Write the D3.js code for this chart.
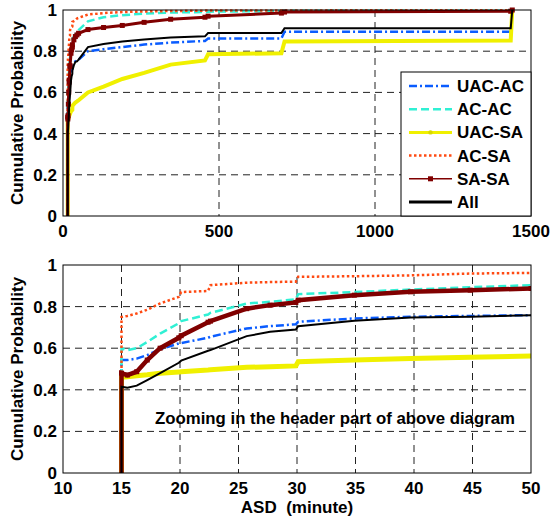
<!DOCTYPE html>
<html lang="en">
<head>
    <meta charset="UTF-8">
    <title>ASD CDF</title>
    <style>
        body { margin: 0; background: #fff; }
        svg { display: block; }
        text { font-family: "Liberation Sans", Arial, sans-serif; font-weight: bold; fill: #000; }
    </style>
</head>
<body>
<svg></svg>
<script src="https://d3js.org/d3.v7.min.js"></script>
<script>
    // ASD in minutes, shared by every series (duplicated x = jump of the CDF)
    var asdMinutes = [15, 15, 15.5, 16.3, 17.2, 18.3, 19.9, 20.1, 22.4, 22.6, 25.7, 27.7, 29.9, 30.1, 34.9,
        39.7, 44.8, 50, 80, 130, 190, 260, 345, 455, 465, 700, 710, 1435, 1440];

    var uacAc = [0, .543, .543, .55, .567, .595, .623, .625, .65, .655, .695, .706, .715, .727, .743,
        .751, .755, .759, .80, .81, .82, .832, .842, .85, .862, .862, .894, .894, 1];
    var acAc = [0, .60, .59, .60, .63, .67, .72, .73, .762, .77, .815, .823, .835, .86, .87,
        .882, .893, .903, .945, .965, .975, .982, .988, .99, .992, .995, .996, .997, 1];
    var uacSa = [0, .46, .463, .468, .472, .48, .485, .487, .495, .496, .508, .511, .515, .535, .543,
        .551, .556, .562, .60, .628, .665, .695, .735, .755, .785, .79, .847, .852, 1];
    var acSa = [0, .75, .755, .767, .785, .815, .847, .87, .875, .903, .915, .918, .92, .943, .946,
        .95, .959, .962, .978, .985, .99, .993, .995, .997, .997, .998, .998, .999, 1];
    var saSa = [0, .48, .471, .487, .543, .6, .65, .66, .725, .73, .79, .807, .82, .831, .855,
        .871, .879, .887, .905, .915, .925, .94, .955, .965, .97, .985, .99, .994, 1];
    var allPairs = [0, .415, .41, .42, .447, .48, .53, .54, .588, .591, .658, .679, .69, .706, .732,
        .748, .751, .759, .82, .835, .847, .857, .867, .872, .888, .888, .912, .912, 1];

    var seriesNames = ["UAC-AC", "AC-AC", "UAC-SA", "AC-SA", "SA-SA", "All"];
    var seriesValues = [uacAc, acAc, uacSa, acSa, saSa, allPairs];

    var topXTicks = [0, 500, 1000, 1500];
    var bottomXTicks = [10, 15, 20, 25, 30, 35, 40, 45, 50];
    var yTicks = [0, 0.2, 0.4, 0.6, 0.8, 1];

    var styles = [
        {color: "#0a5cff", width: 2.5, zoomWidth: 2.5, dash: "8,3,2,3"},
        {color: "#30f0d4", width: 2.5, zoomWidth: 2.5, dash: "8,4"},
        {color: "#f0f000", width: 4, zoomWidth: 5, dash: null},
        {color: "#ff4a12", width: 2.5, zoomWidth: 2.5, dash: "2.5,2.5"},
        {color: "#800000", width: 3, zoomWidth: 4.5, dash: null, marker: true},
        {color: "#000000", width: 2, zoomWidth: 2, dash: null}
    ];

    var width = 551;
    var height = 521;
    var left = 63, right = 531;

    var svg = d3.select("svg")
        .attr("width", width)
        .attr("height", height);

    function drawPanel(top, bottom, xDomain, xTicks, clipId, zoomed) {
        var xScale = d3.scaleLinear().domain(xDomain).range([left, right]);
        var yScale = d3.scaleLinear().domain([0, 1]).range([bottom, top]);
        var g = svg.append("g");

        g.append("clipPath").attr("id", clipId)
            .append("rect")
            .attr("x", left).attr("y", top - 3)
            .attr("width", right - left).attr("height", bottom - top + 6);

        // dashed grid
        g.selectAll(".gx").data(xTicks.slice(1, -1)).enter().append("line")
            .attr("x1", function (d) { return xScale(d); })
            .attr("x2", function (d) { return xScale(d); })
            .attr("y1", top).attr("y2", bottom)
            .style("stroke", "#222").style("stroke-width", 1).style("stroke-dasharray", "7,5");
        g.selectAll(".gy").data(yTicks.slice(1, -1)).enter().append("line")
            .attr("y1", function (d) { return yScale(d); })
            .attr("y2", function (d) { return yScale(d); })
            .attr("x1", left).attr("x2", right)
            .style("stroke", "#222").style("stroke-width", 1).style("stroke-dasharray", "7,5");

        var line = d3.line()
            .x(function (d) { return xScale(d[0]); })
            .y(function (d) { return yScale(d[1]); });

        var lines = g.append("g").attr("clip-path", "url(#" + clipId + ")");
        seriesValues.forEach(function (vals, i) {
            var pts = asdMinutes.map(function (m, j) { return [m, vals[j]]; });
            var s = styles[i];
            lines.append("path")
                .attr("d", line(pts))
                .style("fill", "none")
                .style("stroke", s.color)
                .style("stroke-width", zoomed ? s.zoomWidth : s.width)
                .style("stroke-dasharray", s.dash);
            if (s.marker) {
                lines.selectAll(".m" + i).data(pts.slice(1)).enter().append("rect")
                    .attr("x", function (d) { return xScale(d[0]) - 2.5; })
                    .attr("y", function (d) { return yScale(d[1]) - 2.5; })
                    .attr("width", 5).attr("height", 5)
                    .style("fill", s.color);
            }
        });

        // frame
        g.append("rect")
            .attr("x", left).attr("y", top)
            .attr("width", right - left).attr("height", bottom - top)
            .style("fill", "none").style("stroke", "#000").style("stroke-width", 1);

        // tick labels
        g.selectAll(".tx").data(xTicks).enter().append("text")
            .attr("x", function (d) { return xScale(d); })
            .attr("y", bottom + 21)
            .attr("text-anchor", "middle")
            .style("font-size", "17px")
            .text(function (d) { return d; });
        g.selectAll(".ty").data(yTicks).enter().append("text")
            .attr("x", left - 6)
            .attr("y", function (d) { return yScale(d) + 6; })
            .attr("text-anchor", "end")
            .style("font-size", "17px")
            .text(function (d) { return d; });

        g.append("text")
            .attr("transform", "translate(23," + (top + bottom) / 2 + ") rotate(-90)")
            .attr("text-anchor", "middle")
            .style("font-size", "17px")
            .text("Cumulative Probability");

        return {x: xScale, y: yScale, g: g};
    }

    var topPanel = drawPanel(10, 216, [0, 1500], topXTicks, "clipTop", false);
    var bottomPanel = drawPanel(265, 473, [10, 50], bottomXTicks, "clipBottom", true);

    bottomPanel.g.append("text")
        .attr("x", 335).attr("y", 424)
        .attr("text-anchor", "middle")
        .style("font-size", "16.8px")
        .text("Zooming in the header part of above diagram");

    bottomPanel.g.append("text")
        .attr("x", (left + right) / 2).attr("y", 513)
        .attr("text-anchor", "middle")
        .style("font-size", "17px")
        .style("white-space", "pre")
        .text("ASD  (minute)");

    // legend
    var legend = svg.append("g");
    legend.append("rect")
        .attr("x", 401).attr("y", 72)
        .attr("width", right - 401).attr("height", 216 - 72)
        .style("fill", "#fff").style("stroke", "#000").style("stroke-width", 1);
    var rowY = d3.scaleLinear().domain([0, 5]).range([86, 202]);
    seriesNames.forEach(function (name, i) {
        var s = styles[i];
        var y = rowY(i);
        legend.append("line")
            .attr("x1", 409).attr("x2", 452)
            .attr("y1", y).attr("y2", y)
            .style("stroke", s.color)
            .style("stroke-width", i === 4 ? 1.5 : (i === 2 || i === 5 ? 3 : s.width))
            .style("stroke-dasharray", s.dash);
        if (i === 4) {
            legend.append("rect").attr("x", 428).attr("y", y - 2.5)
                .attr("width", 5).attr("height", 5).style("fill", s.color);
        }
        if (i === 2) {
            legend.append("circle").attr("cx", 430.5).attr("cy", y)
                .attr("r", 2.2).style("fill", "#d8d800");
        }
        legend.append("text")
            .attr("x", 457).attr("y", y + 6)
            .style("font-size", "17px")
            .text(name);
    });
</script>
</body>
</html>
